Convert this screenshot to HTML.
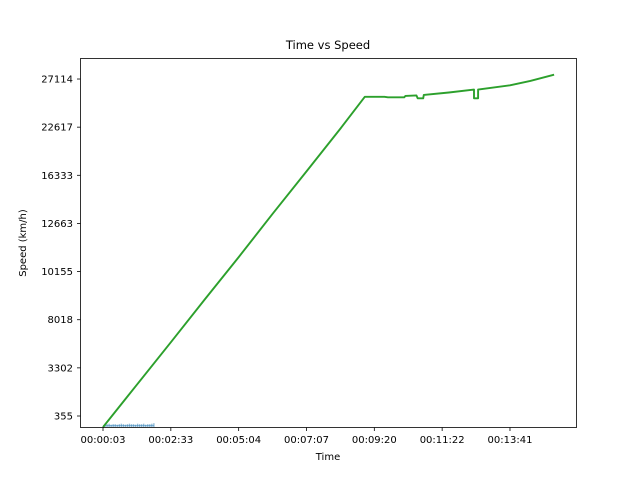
<!DOCTYPE html>
<html><head><meta charset="utf-8">
<style>
html,body{margin:0;padding:0;background:#fff;}
svg text{font-family:"DejaVu Sans","Liberation Sans",sans-serif;fill:#000;}
</style></head>
<body>
<svg id="chart" width="640" height="480" viewBox="0 0 640 480" xmlns="http://www.w3.org/2000/svg">
<rect width="640" height="480" fill="#fff"/>
<text x="328" y="49" font-size="11.5" text-anchor="middle">Time vs Speed</text>
<g id="marks"></g>
<rect x="80.5" y="58.5" width="496" height="369" fill="none" stroke="#000" stroke-width="0.8"/>
<g id="axes"></g>
<text x="328" y="460" font-size="10" text-anchor="middle">Time</text>
<text transform="translate(26,243) rotate(-90)" font-size="10" text-anchor="middle">Speed (km/h)</text>
</svg>
<script>
const xTickLabels = ["00:00:03","00:02:33","00:05:04","00:07:07","00:09:20","00:11:22","00:13:41"];
const yTickLabels = ["355","3302","8018","10155","12663","16333","22617","27114"];
// green series (tick-index units)
const speedX = [0,0.5,1,1.5,2,2.5,3,3.5,3.86,4.15,4.2,4.44,4.46,4.62,4.64,4.72,4.73,5.1,5.47,5.47,5.53,5.53,6.0,6.3,6.65];
const speedY = [-0.23,0.65,1.53,2.42,3.3,4.2,5.08,5.97,6.63,6.63,6.62,6.62,6.65,6.66,6.6,6.6,6.67,6.72,6.78,6.6,6.6,6.78,6.87,6.96,7.09];
// blue series (small bars near baseline)
const blueX = [0.03,0.06,0.09,0.12,0.15,0.18,0.21,0.24,0.27,0.3,0.33,0.36,0.39,0.42,0.45,0.48,0.51,0.54,0.57,0.6,0.63,0.66,0.69,0.72,0.75];
const blueY = [-0.16,-0.17,-0.16,-0.18,-0.17,-0.17,-0.18,-0.17,-0.16,-0.17,-0.18,-0.17,-0.16,-0.17,-0.17,-0.18,-0.16,-0.17,-0.17,-0.16,-0.18,-0.17,-0.17,-0.16,-0.15];

const X = i => 103 + 67.83*i;
const Y = v => 416 - 48.14*v;
const NS = "http://www.w3.org/2000/svg";
const axes = document.getElementById('axes');
const marks = document.getElementById('marks');
function mk(tag, attrs, parent){const e=document.createElementNS(NS,tag);for(const k in attrs)e.setAttribute(k,attrs[k]);parent.appendChild(e);return e;}

xTickLabels.forEach((l,i)=>{
  const t = mk('line',{x1:X(i),x2:X(i),y1:427.5,y2:431,stroke:'#000','stroke-width':0.8},axes);
  
  
  const tx = mk('text',{x:X(i),y:443,'font-size':10,'text-anchor':'middle'},axes);
  tx.textContent = l;
  
  
});
yTickLabels.forEach((l,i)=>{
  const t = mk('line',{x1:77,x2:80.5,y1:Y(i),y2:Y(i),stroke:'#000','stroke-width':0.8},axes);
  
  
  const tx = mk('text',{x:73,y:Y(i)+3.5,'font-size':10,'text-anchor':'end'},axes);
  tx.textContent = l;
  
  
});
blueX.forEach((x,i)=>{
  const b = mk('line',{x1:X(x),x2:X(x),y1:427,y2:Y(blueY[i]),stroke:'#1f77b4','stroke-width':1.4,'stroke-opacity':0.5},marks);
  
  
});
const bl = mk('line',{x1:X(0),x2:X(blueX[blueX.length-1]),y1:Y(-0.2),y2:Y(-0.2),stroke:'#1f77b4','stroke-width':1,'stroke-opacity':0.5},marks);


const pts = speedX.map((x,i)=>X(x).toFixed(1)+','+Y(speedY[i]).toFixed(1)).join(' ');
const pl = mk('polyline',{points:pts,fill:'none',stroke:'#2ca02c','stroke-width':1.9,'stroke-linejoin':'round'},marks);


</script>
</body></html>
